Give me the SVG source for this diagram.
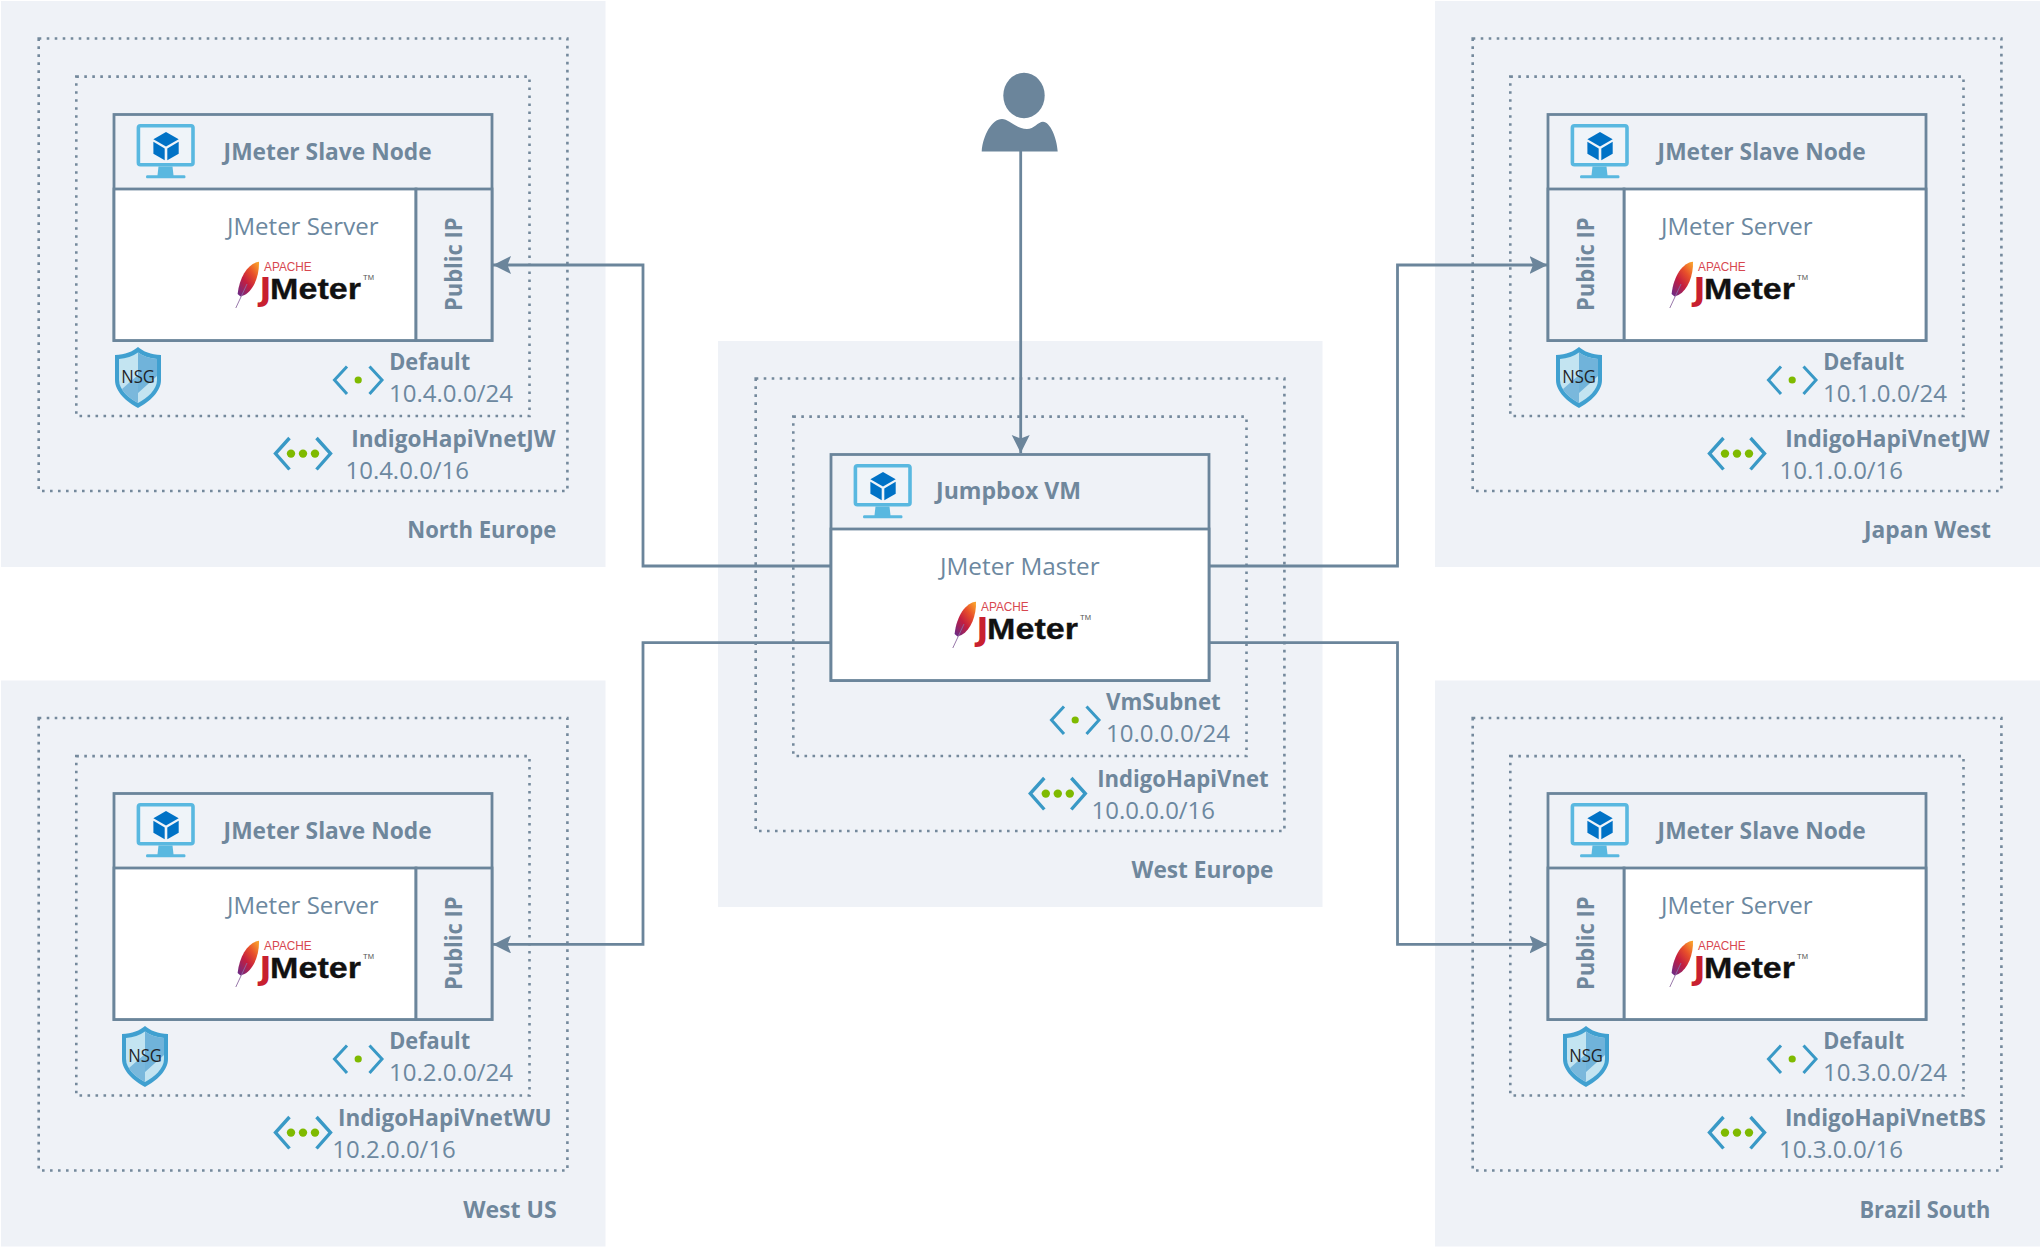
<svg xmlns="http://www.w3.org/2000/svg" xmlns:xlink="http://www.w3.org/1999/xlink" width="2040" height="1247" viewBox="0 0 2040 1247">
<style>
.region{fill:#eff2f7}
.dot{fill:none;stroke:#74899c;stroke-width:2.6;stroke-dasharray:2.6 5.4}
.box{fill:#eff2f7;stroke:#6b859b;stroke-width:2.8}
.white{fill:#fff;stroke:#6b859b;stroke-width:2.8}
.conn{fill:none;stroke:#6b859b;stroke-width:2.8}
text{font-family:"Open Sans","Noto Sans",sans-serif;font-size:23px}
.b{font-weight:700;fill:#6f879c}
.r{font-weight:400;fill:#6c88a0}
.nsg{font-size:18px;fill:#1f2326;text-anchor:middle}
.ap{font-family:"Liberation Sans",Arial,sans-serif;font-size:12.5px;fill:#d7474f}
.jm{font-family:"Liberation Sans",Arial,sans-serif;font-weight:700;font-size:29.5px;fill:#111;stroke:#111;stroke-width:0.3}
.jj{font-family:"DejaVu Sans",sans-serif;font-weight:700;font-size:32px;fill:#c8202f;stroke:none}
.tm{font-family:"Liberation Sans",Arial,sans-serif;font-size:7.5px;fill:#555}
.chev{fill:none;stroke:#3999c6;stroke-width:3}
.grn{fill:#7fba00}
</style>
<defs>
<marker id="arrow" markerUnits="userSpaceOnUse" markerWidth="20" markerHeight="20" refX="18" refY="9" orient="auto"><path d="M0 0L18 9L0 18L3.5 9Z" fill="#6b859b"/></marker>
<linearGradient id="feather" x1="0.9" y1="0" x2="0.1" y2="1"><stop offset="0" stop-color="#f9a02c"/><stop offset="0.3" stop-color="#e8502a"/><stop offset="0.6" stop-color="#c41e3f"/><stop offset="1" stop-color="#6c2a86"/></linearGradient>
<g id="vm">
<rect x="138.4" y="125.8" width="54.6" height="39" rx="2" fill="#eff4f9" stroke="#59b8e0" stroke-width="3.6"/>
<path d="M158.5 166.5H172.5L173.5 175.3H184.5Q185.5 175.3 185.5 176.8T184.5 178.3H147Q146 178.3 146 176.8T147 175.3H157.5Z" fill="#59b8e0"/>
<path d="M166 132L178.7 139.3L166 146.6L153.4 139.3Z" fill="#0072c6"/>
<path d="M153.4 141.8L164.7 148.4V160.2L153.4 153.7Z" fill="#0072c6"/>
<path d="M178.7 141.8L167.3 148.4V160.2L178.7 153.7Z" fill="#0072c6"/>
</g>
<g id="feath">
<path d="M259 261.8C249 262.5 239.5 276 237.6 294L240.5 296.5L244.5 295C254 290 259.5 275 259 261.8Z" fill="url(#feather)"/>
<path d="M247 284L235.8 308" stroke="#8d6aa0" stroke-width="0.9" fill="none"/>
</g>
<g id="shield">
<path d="M138 347C133 351.5 125 354.5 115 355V380C115 392 127 402 138 408C149 402 161 392 161 380V355C151 354.5 143 351.5 138 347Z" fill="#40a0d0"/>
<path d="M138 352.5C133 356 126 358.5 119 359V380C119 390 129 398 138 403Z" fill="#c3e4f1"/>
<path d="M138 352.5C143 356 150 358.5 157 359V380C157 390 147 398 138 403Z" fill="#c3e4f1"/>
<path d="M119 380C119 384 120 386 122 389L138 375V403C129 398 119 390 119 380Z" fill="#7ab8dc"/>
<path d="M138 352.5C143 356 150 358.5 157 359V376L138 393Z" fill="#70b3da"/>
</g>
<g id="subnet">
<path class="chev" d="M347 366.5L334.5 380L347 394M369.5 366.5L382 380L369.5 394"/>
<circle class="grn" cx="358.2" cy="380" r="3.6"/>
</g>
<g id="vnet">
<path class="chev" style="stroke-width:3.4" d="M289.5 438L275.5 453.6L289.5 469.5M316.5 438L330.5 453.6L316.5 469.5"/>
<circle class="grn" cx="291" cy="453.6" r="4.2"/><circle class="grn" cx="303" cy="453.6" r="4.2"/><circle class="grn" cx="315" cy="453.6" r="4.2"/>
</g>
</defs>

<g id="region-north-europe" transform="translate(0,0)">
<rect class="region" x="1" y="1" width="604.5" height="566"/>
<rect class="dot" x="38.7" y="38.5" width="528.7" height="452.5"/>
<rect class="dot" x="76.3" y="76.6" width="453.2" height="339.4"/>
<text class="b" x="407.2" y="537.5" textLength="149" lengthAdjust="spacingAndGlyphs">North Europe</text>
</g>
<g id="region-west-us" transform="translate(0,679.5)">
<rect class="region" x="1" y="1" width="604.5" height="566"/>
<rect class="dot" x="38.7" y="38.5" width="528.7" height="452.5"/>
<rect class="dot" x="76.3" y="76.6" width="453.2" height="339.4"/>
<text class="b" x="463.2" y="538.5" textLength="93.5" lengthAdjust="spacingAndGlyphs">West US</text>
</g>
<g id="region-japan-west" transform="translate(1434,0)">
<rect class="region" x="1" y="1" width="606" height="566"/>
<rect class="dot" x="38.7" y="38.5" width="528.7" height="452.5"/>
<rect class="dot" x="76.3" y="76.6" width="453.2" height="339.4"/>
<text class="b" x="430" y="537.5" textLength="127" lengthAdjust="spacingAndGlyphs">Japan West</text>
</g>
<g id="region-brazil-south" transform="translate(1434,679.5)">
<rect class="region" x="1" y="1" width="606" height="566"/>
<rect class="dot" x="38.7" y="38.5" width="528.7" height="452.5"/>
<rect class="dot" x="76.3" y="76.6" width="453.2" height="339.4"/>
<text class="b" x="425.4" y="538.5" textLength="131" lengthAdjust="spacingAndGlyphs">Brazil South</text>
</g>
<g id="region-west-europe" transform="translate(717,340)">
<rect class="region" x="1" y="1" width="604.5" height="566"/>
<rect class="dot" x="38.7" y="38.5" width="528.7" height="452.5"/>
<rect class="dot" x="76.3" y="76.6" width="453.2" height="339.4"/>
<text class="b" x="414.5" y="537.5" textLength="142" lengthAdjust="spacingAndGlyphs">West Europe</text>
</g>

<g id="connectors">
<path class="conn" d="M1020.7 150V453" marker-end="url(#arrow)"/>
<path class="conn" d="M831 566H643V265H493" marker-end="url(#arrow)"/>
<path class="conn" d="M831 642.6H643V944.4H493" marker-end="url(#arrow)"/>
<path class="conn" d="M1209 566H1397.5V265H1547.5" marker-end="url(#arrow)"/>
<path class="conn" d="M1209 642.6H1397.5V944.4H1547.5" marker-end="url(#arrow)"/>
</g>

<g id="user">
<ellipse cx="1024" cy="95.5" rx="20.7" ry="22.8" fill="#6b859b"/>
<path d="M981.7 151.5C983 135 992 119 1002 119C1009 119 1016 129 1027 129C1034 129 1038 121.7 1043 121.7C1050 121.7 1057 138 1057.7 151.5Z" fill="#6b859b"/>
</g>

<g id="node-north-europe" transform="translate(0,0)">
<rect class="box" x="114" y="114.5" width="378" height="226"/>
<rect class="white" x="114" y="189" width="302" height="151.5"/>
<rect class="box" x="416" y="189" width="76" height="151.5"/>
<use href="#vm"/>
<text class="b" x="223.6" y="160" textLength="208" lengthAdjust="spacingAndGlyphs">JMeter Slave Node</text>
<text class="r" x="227" y="235" textLength="151.5" lengthAdjust="spacingAndGlyphs">JMeter Server</text>
<use href="#feath"/>
<text class="ap" x="264" y="271" textLength="47.7" lengthAdjust="spacingAndGlyphs">APACHE</text>
<text class="jm"><tspan class="jj" x="259.5" y="300.3">J</tspan><tspan x="270" y="298.5" textLength="91" lengthAdjust="spacingAndGlyphs">Meter</tspan></text>
<text class="tm" x="363" y="280" textLength="11" lengthAdjust="spacingAndGlyphs">TM</text>
<text class="b" transform="translate(462,311) rotate(-90)" textLength="93.5" lengthAdjust="spacingAndGlyphs">Public IP</text>
<use href="#shield"/>
<text class="nsg" x="138" y="383" textLength="33.7" lengthAdjust="spacingAndGlyphs">NSG</text>
<use href="#subnet"/>
<text class="b" x="389.2" y="370" textLength="81" lengthAdjust="spacingAndGlyphs">Default</text>
<text class="r" x="389" y="402" textLength="124" lengthAdjust="spacingAndGlyphs">10.4.0.0/24</text>
<use href="#vnet"/>
<text class="b" x="351.2" y="447" textLength="204.5" lengthAdjust="spacingAndGlyphs">IndigoHapiVnetJW</text>
<text class="r" x="345.5" y="479" textLength="123.5" lengthAdjust="spacingAndGlyphs">10.4.0.0/16</text>
</g>

<g id="node-west-us" transform="translate(0,679)">
<rect class="box" x="114" y="114.5" width="378" height="226"/>
<rect class="white" x="114" y="189" width="302" height="151.5"/>
<rect class="box" x="416" y="189" width="76" height="151.5"/>
<use href="#vm"/>
<text class="b" x="223.6" y="160" textLength="208" lengthAdjust="spacingAndGlyphs">JMeter Slave Node</text>
<text class="r" x="227" y="235" textLength="151.5" lengthAdjust="spacingAndGlyphs">JMeter Server</text>
<use href="#feath"/>
<text class="ap" x="264" y="271" textLength="47.7" lengthAdjust="spacingAndGlyphs">APACHE</text>
<text class="jm"><tspan class="jj" x="259.5" y="300.3">J</tspan><tspan x="270" y="298.5" textLength="91" lengthAdjust="spacingAndGlyphs">Meter</tspan></text>
<text class="tm" x="363" y="280" textLength="11" lengthAdjust="spacingAndGlyphs">TM</text>
<text class="b" transform="translate(462,311) rotate(-90)" textLength="93.5" lengthAdjust="spacingAndGlyphs">Public IP</text>
<use href="#shield" x="7"/>
<text class="nsg" x="145" y="383" textLength="33.7" lengthAdjust="spacingAndGlyphs">NSG</text>
<use href="#subnet"/>
<text class="b" x="389.2" y="370" textLength="81" lengthAdjust="spacingAndGlyphs">Default</text>
<text class="r" x="389" y="402" textLength="124" lengthAdjust="spacingAndGlyphs">10.2.0.0/24</text>
<use href="#vnet"/>
<text class="b" x="338" y="447" textLength="213.5" lengthAdjust="spacingAndGlyphs">IndigoHapiVnetWU</text>
<text class="r" x="332.3" y="479" textLength="123.5" lengthAdjust="spacingAndGlyphs">10.2.0.0/16</text>
</g>

<g id="node-japan-west" transform="translate(1434,0)">
<rect class="box" x="114" y="114.5" width="378" height="226"/>
<rect class="white" x="190" y="189" width="302" height="151.5"/>
<rect class="box" x="114" y="189" width="76" height="151.5"/>
<use href="#vm"/>
<text class="b" x="223.6" y="160" textLength="208" lengthAdjust="spacingAndGlyphs">JMeter Slave Node</text>
<text class="r" x="227" y="235" textLength="151.5" lengthAdjust="spacingAndGlyphs">JMeter Server</text>
<use href="#feath"/>
<text class="ap" x="264" y="271" textLength="47.7" lengthAdjust="spacingAndGlyphs">APACHE</text>
<text class="jm"><tspan class="jj" x="259.5" y="300.3">J</tspan><tspan x="270" y="298.5" textLength="91" lengthAdjust="spacingAndGlyphs">Meter</tspan></text>
<text class="tm" x="363" y="280" textLength="11" lengthAdjust="spacingAndGlyphs">TM</text>
<text class="b" transform="translate(160,311) rotate(-90)" textLength="93.5" lengthAdjust="spacingAndGlyphs">Public IP</text>
<use href="#shield" x="7"/>
<text class="nsg" x="145" y="383" textLength="33.7" lengthAdjust="spacingAndGlyphs">NSG</text>
<use href="#subnet"/>
<text class="b" x="389.2" y="370" textLength="81" lengthAdjust="spacingAndGlyphs">Default</text>
<text class="r" x="389" y="402" textLength="124" lengthAdjust="spacingAndGlyphs">10.1.0.0/24</text>
<use href="#vnet"/>
<text class="b" x="351.2" y="447" textLength="204.5" lengthAdjust="spacingAndGlyphs">IndigoHapiVnetJW</text>
<text class="r" x="345.5" y="479" textLength="123.5" lengthAdjust="spacingAndGlyphs">10.1.0.0/16</text>
</g>

<g id="node-brazil-south" transform="translate(1434,679)">
<rect class="box" x="114" y="114.5" width="378" height="226"/>
<rect class="white" x="190" y="189" width="302" height="151.5"/>
<rect class="box" x="114" y="189" width="76" height="151.5"/>
<use href="#vm"/>
<text class="b" x="223.6" y="160" textLength="208" lengthAdjust="spacingAndGlyphs">JMeter Slave Node</text>
<text class="r" x="227" y="235" textLength="151.5" lengthAdjust="spacingAndGlyphs">JMeter Server</text>
<use href="#feath"/>
<text class="ap" x="264" y="271" textLength="47.7" lengthAdjust="spacingAndGlyphs">APACHE</text>
<text class="jm"><tspan class="jj" x="259.5" y="300.3">J</tspan><tspan x="270" y="298.5" textLength="91" lengthAdjust="spacingAndGlyphs">Meter</tspan></text>
<text class="tm" x="363" y="280" textLength="11" lengthAdjust="spacingAndGlyphs">TM</text>
<text class="b" transform="translate(160,311) rotate(-90)" textLength="93.5" lengthAdjust="spacingAndGlyphs">Public IP</text>
<use href="#shield" x="14"/>
<text class="nsg" x="152" y="383" textLength="33.7" lengthAdjust="spacingAndGlyphs">NSG</text>
<use href="#subnet"/>
<text class="b" x="389.2" y="370" textLength="81" lengthAdjust="spacingAndGlyphs">Default</text>
<text class="r" x="389" y="402" textLength="124" lengthAdjust="spacingAndGlyphs">10.3.0.0/24</text>
<use href="#vnet"/>
<text class="b" x="350.9" y="447" textLength="201" lengthAdjust="spacingAndGlyphs">IndigoHapiVnetBS</text>
<text class="r" x="345" y="479" textLength="124" lengthAdjust="spacingAndGlyphs">10.3.0.0/16</text>
</g>

<g id="node-jumpbox" transform="translate(717,340)">
<rect class="box" x="114" y="114.5" width="378" height="226"/>
<rect class="white" x="114" y="189" width="378" height="151.5"/>
<use href="#vm"/>
<text class="b" x="219" y="159" textLength="145" lengthAdjust="spacingAndGlyphs">Jumpbox VM</text>
<text class="r" x="223" y="235" textLength="159.6" lengthAdjust="spacingAndGlyphs">JMeter Master</text>
<use href="#feath"/>
<text class="ap" x="264" y="271" textLength="47.7" lengthAdjust="spacingAndGlyphs">APACHE</text>
<text class="jm"><tspan class="jj" x="259.5" y="300.3">J</tspan><tspan x="270" y="298.5" textLength="91" lengthAdjust="spacingAndGlyphs">Meter</tspan></text>
<text class="tm" x="363" y="280" textLength="11" lengthAdjust="spacingAndGlyphs">TM</text>
<use href="#subnet"/>
<text class="b" x="389" y="370" textLength="114.7" lengthAdjust="spacingAndGlyphs">VmSubnet</text>
<text class="r" x="389" y="402" textLength="124" lengthAdjust="spacingAndGlyphs">10.0.0.0/24</text>
<use href="#vnet" x="37.8"/>
<text class="b" x="380.2" y="447" textLength="171.5" lengthAdjust="spacingAndGlyphs">IndigoHapiVnet</text>
<text class="r" x="374.5" y="479" textLength="123.5" lengthAdjust="spacingAndGlyphs">10.0.0.0/16</text>
</g>
</svg>
